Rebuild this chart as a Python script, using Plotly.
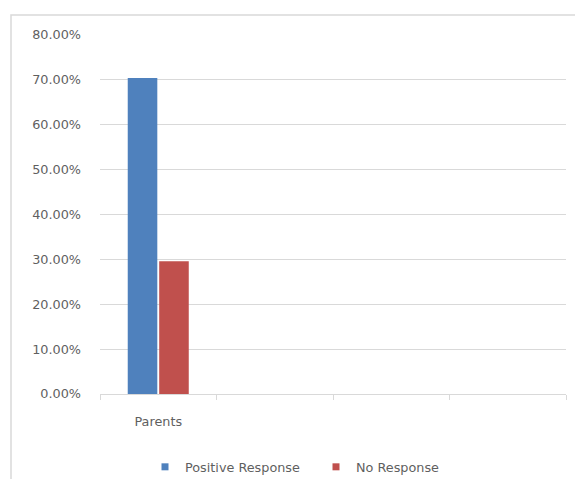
import plotly.graph_objects as go

categories = ["Parents", " ", "  ", "   "]
positive_response = [0.704, None, None, None]
no_response = [0.296, None, None, None]
y_ticks = [0, 0.1, 0.2, 0.3, 0.4, 0.5, 0.6, 0.7, 0.8]

FONT = "DejaVu Sans, Open Sans, sans-serif"
GRAY = "#5f5f5f"
GRID = "#d9d9d9"
BLUE = "#4F81BD"
RED = "#C0504D"

fig = go.Figure()
fig.add_trace(go.Bar(x=categories, y=positive_response, name="Positive Response",
                     marker=dict(color=BLUE, line=dict(width=0)), showlegend=False))
fig.add_trace(go.Bar(x=categories, y=no_response, name="No Response",
                     marker=dict(color=RED, line=dict(width=0)), showlegend=False))
# legend keys (small squares, like the original)
for nm, col in [("Positive Response", BLUE), ("No Response", RED)]:
    fig.add_trace(go.Scatter(x=[None], y=[None], mode="markers", name=nm,
                             marker=dict(symbol="square", size=7, color=col)))

W, H = 575, 479
L, R, T, B = 100, 9, 35, 85
pw = W - L - R
ph = H - T - B
FS = 12.8

fig.update_layout(
    width=W, height=H,
    margin=dict(l=L, r=R, t=T, b=B, autoexpand=False),
    paper_bgcolor="white", plot_bgcolor="white",
    barmode="group", bargap=0.46, bargroupgap=0.06,
    font=dict(family=FONT, size=FS, color=GRAY),
    showlegend=True,
    legend=dict(orientation="h", x=(145 - L) / pw, xanchor="left",
                y=(394 - 467) / ph, yanchor="middle",
                font=dict(family=FONT, size=FS, color=GRAY),
                itemwidth=30, entrywidth=126, tracegroupgap=0,
                bgcolor="rgba(0,0,0,0)"),
    xaxis=dict(type="category", tickson="boundaries", ticks="outside",
               ticklen=5, tickcolor=GRID, showline=True, linecolor=GRID,
               linewidth=1, showgrid=False, ticklabelstandoff=16,
               automargin=False,
               tickfont=dict(family=FONT, size=FS, color=GRAY)),
    yaxis=dict(range=[0, 0.8], tickvals=y_ticks, tickformat=".2%",
               showgrid=True, gridcolor=GRID, gridwidth=1, zeroline=False,
               showline=False, ticks="", ticklabelstandoff=18,
               automargin=False,
               tickfont=dict(family=FONT, size=FS, color=GRAY)),
    shapes=[dict(type="rect", xref="paper", yref="paper",
                 x0=(11 - L) / pw, x1=1.2, y0=-0.5, y1=1 + (T - 15) / ph,
                 line=dict(color=GRID, width=1.5), fillcolor="rgba(0,0,0,0)",
                 layer="below")],
)

fig.write_html("out.html", config={"displayModeBar": False},
               post_script="document.body.style.margin='0';document.body.style.overflow='hidden';")
